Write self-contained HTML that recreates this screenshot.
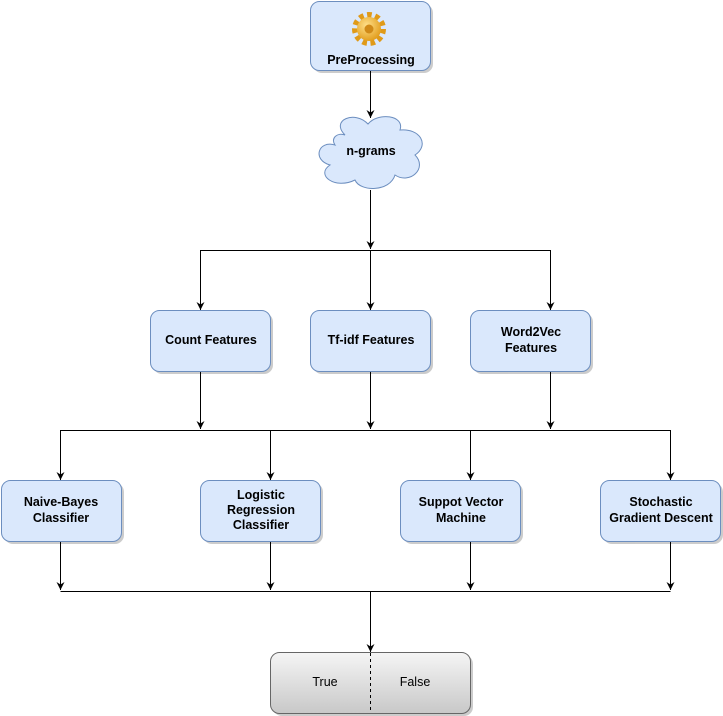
<!DOCTYPE html>
<html><head><meta charset="utf-8"><style>
html,body{margin:0;padding:0;background:#fff;}
svg{display:block;font-family:"Liberation Sans","DejaVu Sans",sans-serif;}
</style></head><body>
<svg width="723" height="716" viewBox="0 0 723 716" xmlns="http://www.w3.org/2000/svg">
<defs>
<marker id="a" markerWidth="10" markerHeight="10" refX="8" refY="4" orient="auto" markerUnits="userSpaceOnUse"><path d="M0,0 L8,4 L0,8 L2.5,4 Z" fill="#000"/></marker>
<linearGradient id="g" x1="0" y1="0" x2="0" y2="1"><stop offset="0" stop-color="#f5f5f5"/><stop offset="1" stop-color="#c8c8c8"/></linearGradient>
<radialGradient id="gear" cx="0.4" cy="0.35" r="0.7"><stop offset="0" stop-color="#ffe08a"/><stop offset="1" stop-color="#e09a18"/></radialGradient>
</defs>
<g fill="#999" opacity="0.5">
<rect x="313" y="4" width="120" height="69" rx="9"/>
<rect x="153" y="313" width="120" height="61" rx="9"/><rect x="313" y="313" width="120" height="61" rx="9"/><rect x="473" y="313" width="120" height="61" rx="9"/>
<rect x="4" y="483" width="120" height="61" rx="9"/><rect x="203" y="483" width="120" height="61" rx="9"/><rect x="403" y="483" width="120" height="61" rx="9"/><rect x="603" y="483" width="120" height="61" rx="9"/>
<rect x="273" y="655" width="200" height="61" rx="9"/>
</g>
<g fill="#dae8fc" stroke="#6c8ebf" stroke-width="1">
<rect x="310.5" y="1.5" width="120" height="69" rx="9"/>
<rect x="150.5" y="310.5" width="120" height="61" rx="9"/><rect x="310.5" y="310.5" width="120" height="61" rx="9"/><rect x="470.5" y="310.5" width="120" height="61" rx="9"/>
<rect x="1.5" y="480.5" width="120" height="61" rx="9"/><rect x="200.5" y="480.5" width="120" height="61" rx="9"/><rect x="400.5" y="480.5" width="120" height="61" rx="9"/><rect x="600.5" y="480.5" width="120" height="61" rx="9"/>
<path d="M345,135 C330,120 355,110 368,124 C378,112 405,115 400,130 C420,128 430,145 415,155 C428,168 410,185 395,175 C390,192 360,192 355,180 C335,190 315,175 330,165 C312,160 318,140 335,145 C330,138 338,132 345,135 Z"/>
</g>
<rect x="270.5" y="652.5" width="200" height="61" rx="9" fill="url(#g)" stroke="#666"/>
<line x1="370.5" y1="653" x2="370.5" y2="713" stroke="#000" stroke-dasharray="3,3"/>
<g transform="translate(369,29)">
<circle r="14" fill="none" stroke="#e09a18" stroke-width="6" stroke-dasharray="4.5,3.5"/>
<circle r="12" fill="url(#gear)"/><circle r="4.5" fill="#d08a18"/>
</g>
<g stroke="#000" stroke-width="1" fill="none">
<line x1="370.5" y1="71" x2="370.5" y2="118" marker-end="url(#a)"/>
<line x1="370.5" y1="190" x2="370.5" y2="249" marker-end="url(#a)"/>
<line x1="200.5" y1="250.5" x2="550.5" y2="250.5"/>
<line x1="200.5" y1="250" x2="200.5" y2="310" marker-end="url(#a)"/>
<line x1="370.5" y1="250" x2="370.5" y2="310" marker-end="url(#a)"/>
<line x1="550.5" y1="250" x2="550.5" y2="310" marker-end="url(#a)"/>
<line x1="200.5" y1="372" x2="200.5" y2="429" marker-end="url(#a)"/>
<line x1="370.5" y1="372" x2="370.5" y2="429" marker-end="url(#a)"/>
<line x1="550.5" y1="372" x2="550.5" y2="429" marker-end="url(#a)"/>
<line x1="60.5" y1="430.5" x2="670.5" y2="430.5"/>
<line x1="60.5" y1="430" x2="60.5" y2="480" marker-end="url(#a)"/>
<line x1="270.5" y1="430" x2="270.5" y2="480" marker-end="url(#a)"/>
<line x1="470.5" y1="430" x2="470.5" y2="480" marker-end="url(#a)"/>
<line x1="670.5" y1="430" x2="670.5" y2="480" marker-end="url(#a)"/>
<line x1="60.5" y1="542" x2="60.5" y2="590" marker-end="url(#a)"/>
<line x1="270.5" y1="542" x2="270.5" y2="590" marker-end="url(#a)"/>
<line x1="470.5" y1="542" x2="470.5" y2="590" marker-end="url(#a)"/>
<line x1="670.5" y1="542" x2="670.5" y2="590" marker-end="url(#a)"/>
<line x1="60.5" y1="591.5" x2="670.5" y2="591.5"/>
<line x1="370.5" y1="591" x2="370.5" y2="652" marker-end="url(#a)"/>
</g>
<g font-size="12.5" font-weight="bold" fill="#000" text-anchor="middle">
<text x="371" y="64">PreProcessing</text>
<text x="371" y="155">n-grams</text>
<text x="211" y="344">Count Features</text>
<text x="371" y="344">Tf-idf Features</text>
<text x="531" y="336">Word2Vec</text><text x="531" y="352">Features</text>
<text x="61" y="506">Naive-Bayes</text><text x="61" y="522">Classifier</text>
<text x="261" y="499">Logistic</text><text x="261" y="514">Regression</text><text x="261" y="529">Classifier</text>
<text x="461" y="506">Suppot Vector</text><text x="461" y="522">Machine</text>
<text x="661" y="506">Stochastic</text><text x="661" y="522">Gradient Descent</text>
</g>
<g font-size="12.5" fill="#000" text-anchor="middle">
<text x="325" y="686">True</text><text x="415" y="686">False</text>
</g>
</svg>
</body></html>
